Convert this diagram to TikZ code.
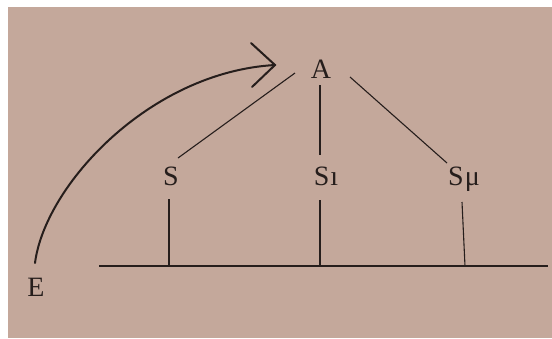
\documentclass[tikz,border=0pt]{standalone}
\usepackage{fontspec}
\setmainfont{Liberation Serif}
\definecolor{page}{RGB}{196,168,155}
\definecolor{ink}{RGB}{38,30,28}
\begin{document}
\begin{tikzpicture}[x=1pt,y=-1pt,
  lbl/.style={inner sep=0pt,anchor=base,text=ink,font=\fontsize{28}{30}\selectfont},
  thin/.style={draw=ink,line width=1.1pt},
  thick/.style={draw=ink,line width=2pt,line cap=round}]
\fill[white] (0,0) rectangle (552,338);
\fill[page] (8,7) rectangle (552,338);
\useasboundingbox (0,0) rectangle (552,338);
% labels
\node[lbl] (A) at (321,78) {A};
\node[lbl] (S) at (171,185) {S};
\node[lbl] (S1) at (326,185) {S\kern1pt ı};
\node[lbl] (Smu) at (464,185) {S\kern1pt μ};
\node[lbl] (E) at (36,296) {E};
% coordinates
\coordinate (aS) at (295,73);
\coordinate (sA) at (178,158);
\coordinate (aS1) at (320,85);
\coordinate (s1A) at (320,155);
\coordinate (aSmu) at (350,77);
\coordinate (smuA) at (447,163);
\coordinate (sb) at (169,199);
\coordinate (sbb) at (169,266);
\coordinate (s1b) at (320,200);
\coordinate (s1bb) at (320,266);
\coordinate (smub) at (462,202);
\coordinate (smubb) at (465,266);
\coordinate (bl) at (99,266);
\coordinate (br) at (548,266);
\coordinate (eS) at (35,263);
\coordinate (tip) at (275,65);
\coordinate (armU) at (251,43);
\coordinate (armD) at (252,87);
% lines
\draw[thin] (aS) -- (sA);
\draw[thin] (aS1) -- (s1A);
\draw[thin] (aSmu) -- (smuA);
\draw[thin] (sb) -- (sbb);
\draw[thin] (s1b) -- (s1bb);
\draw[thin] (smub) -- (smubb);
\draw[thin] (bl) -- (br);
% arrow
\draw[thick] (eS) .. controls (45,185) and (150,72) .. (tip);
\draw[thick,line join=miter] (armU) -- (tip) -- (armD);
\end{tikzpicture}
\end{document}
